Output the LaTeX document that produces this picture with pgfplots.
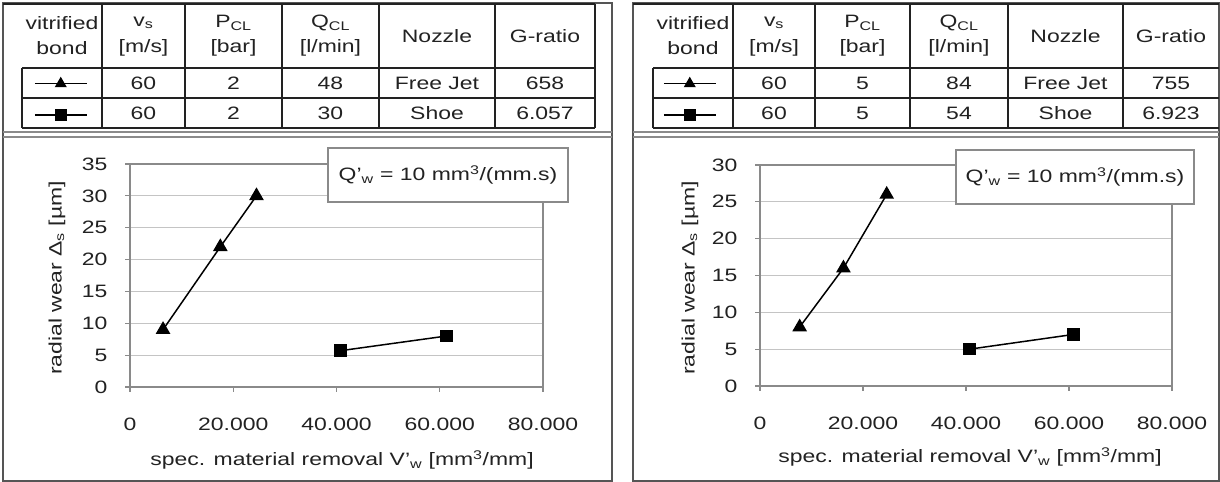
\documentclass[border=0pt]{standalone}
\usepackage{fontspec}
\setmainfont{Liberation Sans}[FakeStretch=1.28]
\usepackage{pgfplots}
\pgfplotsset{compat=1.18}
\definecolor{txt}{HTML}{222222}
\definecolor{gridc}{HTML}{C4C4C4}
\definecolor{frm}{HTML}{8A8A8A}
\definecolor{tline}{HTML}{222222}
\definecolor{pframe}{HTML}{555555}
\newcommand{\fs}{\fontsize{18}{21}\selectfont}

\pgfplotstableread{
x y
6400 9
17500 22
24500 30
}\leftTri
\pgfplotstableread{
x y
40800 5.7
61300 8
}\leftSq
\pgfplotstableread{
x y
7700 8
16200 16
24600 26
}\rightTri
\pgfplotstableread{
x y
40700 5
60900 7
}\rightSq

\pgfplotsset{
 myaxis/.style={
  scale only axis, anchor=south west,
  xmin=0, xmax=80000, ymin=0,
  scaled x ticks=false,
  xtick={0,20000,40000,60000,80000},
  xticklabels={0,20.000,40.000,60.000,80.000},
  /pgf/number format/assume math mode=true,
  tick align=outside, tick pos=left, major tick length=5bp,
  axis line style={frm, line width=1.2bp},
  every tick/.style={frm, line width=1.2bp},
  ymajorgrids, grid style={gridc, line width=1.2bp},
  tick label style={font=\fs, text=txt},
  xticklabel style={yshift=-22bp},
  yticklabel style={xshift=-14bp},
  legend style={draw=none, fill=none, inner sep=0pt, outer sep=0pt,
    anchor=north west, nodes={inner sep=0pt}, row sep=0pt},
  legend image code/.code={%
    \draw[mark repeat=2,mark phase=2,mark size=5.5bp] plot coordinates {(0bp,0bp) (26bp,0bp) (52bp,0bp)};
    \path (0bp,-15bp) (52bp,15bp);},
  clip=false,
 },
 tri/.style={black, line width=1.5bp, mark=triangle*, mark size=7bp, mark options={solid}},
 sq/.style={black, line width=1.5bp, mark=square*, mark size=5.5bp, mark options={solid}},
}

\begin{document}
\begin{tikzpicture}[x=1bp,y=1bp, every node/.style={text=txt, font=\fs}]
\path[use as bounding box] (0,0) rectangle (1220,482);
\fill[white] (0,0) rectangle (1220,482);

% ---------- panel frames ----------
\draw[pframe, line width=1.5bp] (3,1) rectangle (612,479);
\draw[pframe, line width=1.5bp] (633,1) rectangle (1219,479);
% separators table / chart
\foreach \ox/\ex in {3/612, 633/1219}{
  \draw[frm, line width=1.2bp] (\ox,350) -- (\ex,350);
  \draw[frm, line width=1.2bp] (\ox,345) -- (\ex,345);
}

% ---------- left table ----------
\begin{scope}[tline, line width=1.8bp]
\draw (3,478) -- (595,478);
\foreach \vx in {102,185,282,379,495,595} \draw (\vx,478) -- (\vx,354);
\draw (22,414) -- (595,414);
\draw (22,384) -- (595,384);
\draw (22,354) -- (595,354);
\draw (22,414) -- (22,354);
\end{scope}
\node at (62,459) {vitrified};
\node at (62,434) {bond};
\node at (143.5,459) {v\textsubscript{s}};
\node at (143.5,434) {[m/s]};
\node at (233.5,459) {P\textsubscript{CL}};
\node at (233.5,434) {[bar]};
\node at (330.5,459) {Q\textsubscript{CL}};
\node at (330.5,434) {[l/min]};
\node at (437,446) {Nozzle};
\node at (545,446) {G-ratio};
\node at (143.5,399) {60};
\node at (233.5,399) {2};
\node at (330.5,399) {48};
\node at (437,399) {Free Jet};
\node at (545,399) {658};
\node at (143.5,369) {60};
\node at (233.5,369) {2};
\node at (330.5,369) {30};
\node at (437,369) {Shoe};
\node at (545,369) {6.057};

% ---------- right table ----------
\begin{scope}[tline, line width=1.8bp]
\draw (633,478) -- (1219,478);
\foreach \vx in {733,815,910,1008,1123} \draw (\vx,478) -- (\vx,354);
\draw (653,414) -- (1219,414);
\draw (653,384) -- (1219,384);
\draw (653,354) -- (1219,354);
\draw (653,414) -- (653,354);
\end{scope}
\node at (693,459) {vitrified};
\node at (693,434) {bond};
\node at (774,459) {v\textsubscript{s}};
\node at (774,434) {[m/s]};
\node at (862.5,459) {P\textsubscript{CL}};
\node at (862.5,434) {[bar]};
\node at (959,459) {Q\textsubscript{CL}};
\node at (959,434) {[l/min]};
\node at (1065.5,446) {Nozzle};
\node at (1171,446) {G-ratio};
\node at (774,399) {60};
\node at (862.5,399) {5};
\node at (959,399) {84};
\node at (1065.5,399) {Free Jet};
\node at (1171,399) {755};
\node at (774,369) {60};
\node at (862.5,369) {5};
\node at (959,369) {54};
\node at (1065.5,369) {Shoe};
\node at (1171,369) {6.923};

% ---------- left chart ----------
\begin{axis}[myaxis, at={(130bp,95bp)}, width=413bp, height=223bp,
  ymax=35, ytick={0,5,...,35},
  legend style={at={(axis description cs:-0.2324,1.4305)}}]
\addplot[tri] table[x=x,y=y] {\leftTri};
\addlegendentry{\mbox{}}
\addplot[sq] table[x=x,y=y] {\leftSq};
\addlegendentry{\mbox{}}
\end{axis}
\node[draw=frm, line width=1.5bp, fill=white, minimum width=240bp, minimum height=54bp] at (448,307)
  {Q'\textsubscript{w} = 10 mm\textsuperscript{3}/(mm.s)};
\node[rotate=90] at (57,204) {radial wear Δ\textsubscript{s} [µm]};
\node at (342,22) {spec. material removal V'\textsubscript{w} [mm\textsuperscript{3}/mm]};

% ---------- right chart ----------
\begin{axis}[myaxis, at={(760bp,96bp)}, width=412bp, height=221bp,
  ymax=30, ytick={0,5,...,30},
  legend style={at={(axis description cs:-0.2354,1.4389)}}]
\addplot[tri] table[x=x,y=y] {\rightTri};
\addlegendentry{\mbox{}}
\addplot[sq] table[x=x,y=y] {\rightSq};
\addlegendentry{\mbox{}}
\end{axis}
\node[draw=frm, line width=1.5bp, fill=white, minimum width=238bp, minimum height=54bp] at (1075,305)
  {Q'\textsubscript{w} = 10 mm\textsuperscript{3}/(mm.s)};
\node[rotate=90] at (690,204) {radial wear Δ\textsubscript{s} [µm]};
\node at (970,25) {spec. material removal V'\textsubscript{w} [mm\textsuperscript{3}/mm]};
\end{tikzpicture}
\end{document}
